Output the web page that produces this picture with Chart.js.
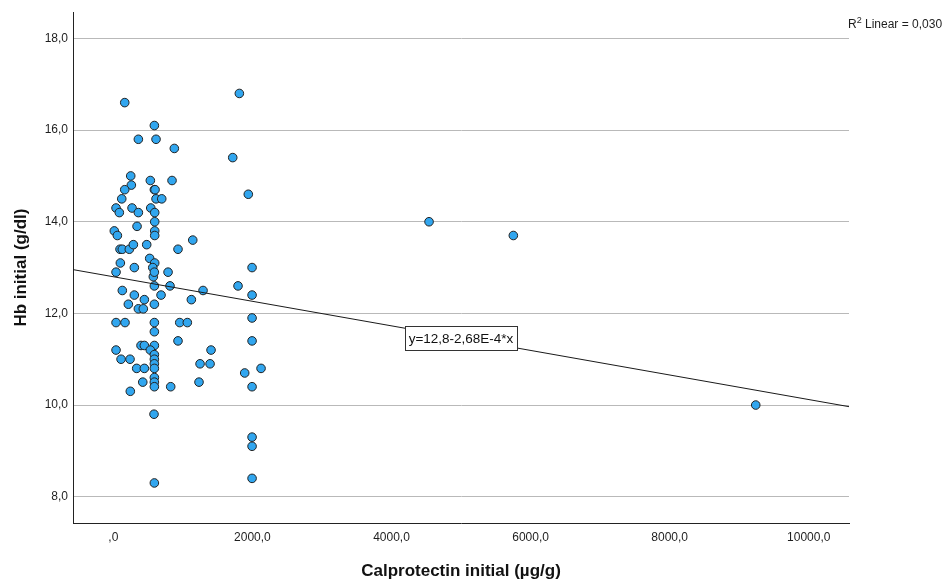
<!DOCTYPE html>
<html>
<head>
<meta charset="utf-8">
<script src="https://cdn.jsdelivr.net/npm/chart.js@4/dist/chart.umd.min.js"></script>
<style>
  html, body { margin: 0; padding: 0; background: #fff; }
  #wrap { width: 946px; height: 583px; position: relative; }
</style>
</head>
<body>
<div id="wrap"><canvas id="c" width="946" height="583"></canvas></div>
<script>
// Initial faecal calprotectin (µg/g) and initial haemoglobin (g/dl), one entry per patient
const calprotectin = [
  164, 1812, 590, 360, 614, 877, 1717, 250, 259, 532,
  844, 164, 590, 600, 1941, 121, 614, 696, 39, 86,
  269, 360, 538, 595, 341, 595, 14, 58, 595, 595,
  1142, 96, 129, 230, 288, 480, 930, 1995, 101, 523,
  595, 39, 302, 567, 787, 575, 590, 590, 815, 1793,
  129, 1290, 302, 686, 1995, 446, 1122, 216, 590, 360,
  431, 39, 168, 590, 955, 1064, 1995, 590, 930, 1995,
  398, 446, 590, 39, 532, 1405, 590, 590, 590, 590,
  111, 240, 1247, 1391, 336, 446, 1889, 2124, 590, 590,
  590, 423, 1232, 825, 1995, 244, 585, 1995, 1995, 1995,
  590, 4540, 5752, 9238
];
const hb = [
  16.6, 16.8, 16.1, 15.8, 15.8, 15.6, 15.4, 15.0, 14.8, 14.9,
  14.9, 14.7, 14.7, 14.7, 14.6, 14.5, 14.5, 14.5, 14.3, 14.2,
  14.3, 14.2, 14.3, 14.2, 13.9, 14.0, 13.8, 13.7, 13.8, 13.7,
  13.6, 13.4, 13.4, 13.4, 13.5, 13.5, 13.4, 13.0, 13.1, 13.2,
  13.1, 12.9, 13.0, 13.0, 12.9, 12.8, 12.9, 12.6, 12.6, 12.6,
  12.5, 12.5, 12.4, 12.4, 12.4, 12.3, 12.3, 12.2, 12.2, 12.1,
  12.1, 11.8, 11.8, 11.8, 11.8, 11.8, 11.9, 11.6, 11.4, 11.4,
  11.3, 11.3, 11.3, 11.2, 11.2, 11.2, 11.1, 11.0, 10.9, 10.8,
  11.0, 11.0, 10.9, 10.9, 10.8, 10.8, 10.7, 10.8, 10.6, 10.5,
  10.4, 10.5, 10.5, 10.4, 10.4, 10.3, 9.8, 9.3, 9.1, 8.4,
  8.3, 14.0, 13.7, 10.0
];

// Axis ticks and ranges
const xTicks = [0, 2000, 4000, 6000, 8000, 10000];
const yTicks = [8, 10, 12, 14, 16, 18];
const X_MIN = -580, X_MAX = 10579;
const Y_MIN = 7.426, Y_MAX = 18.573;

// Linear fit reported for the data
const FIT_INTERCEPT = 12.8;
const FIT_SLOPE = -2.68e-4;
const R2_LINEAR = 0.030;

const fit = x => FIT_INTERCEPT + FIT_SLOPE * x;
// axis labels drop the leading zero (",0"), other numbers keep it
const axisNum = v => {
  const s = v.toFixed(1).replace('.', ',');
  return s.startsWith('0,') ? s.slice(1) : s;
};

const FONT = '"Liberation Sans", Arial, Helvetica, sans-serif';
const TEXT = '#1e1e1e';

const points = calprotectin.map((x, i) => ({ x, y: hb[i] }));

const fitLabel = 'y=' + String(FIT_INTERCEPT).replace('.', ',') + '-' +
  (Math.abs(FIT_SLOPE) * 1e4).toFixed(2).replace('.', ',') + 'E-4*x';

const annotations = {
  id: 'annotations',
  afterDatasetsDraw(chart) {
    const { ctx, scales: { x, y } } = chart;
    ctx.save();
    // fit equation box, centred on the line at the middle of the x range
    const xm = (X_MIN + X_MAX) / 2;
    const cx = x.getPixelForValue(xm), cy = y.getPixelForValue(fit(xm));
    ctx.font = '13.5px ' + FONT;
    const tw = ctx.measureText(fitLabel).width;
    const bw = Math.round(tw + 7), bh = 24;
    const bx = Math.round(cx - bw / 2) + 0.5, by = Math.round(cy - bh / 2) + 0.5;
    ctx.fillStyle = '#fff';
    ctx.fillRect(bx, by, bw, bh);
    ctx.strokeStyle = '#333';
    ctx.lineWidth = 1;
    ctx.strokeRect(bx, by, bw, bh);
    ctx.fillStyle = '#111';
    ctx.textAlign = 'center';
    ctx.textBaseline = 'middle';
    ctx.fillText(fitLabel, cx, cy + 1);
    ctx.restore();
  },
  afterDraw(chart) {
    const { ctx, chartArea: a } = chart;
    ctx.save();
    ctx.fillStyle = '#111';
    // axis titles
    ctx.font = 'bold 17px ' + FONT;
    ctx.textAlign = 'center';
    ctx.textBaseline = 'middle';
    ctx.fillText('Calprotectin initial (\u00b5g/g)', (a.left + a.right) / 2, 571);
    ctx.translate(21, (a.top + a.bottom) / 2);
    ctx.rotate(-Math.PI / 2);
    ctx.fillText('Hb initial (g/dl)', 0, 0);
    ctx.setTransform(1, 0, 0, 1, 0, 0);
    // R² note at the top right
    ctx.fillStyle = TEXT;
    ctx.textAlign = 'left';
    ctx.textBaseline = 'alphabetic';
    let px = a.right - 1;
    ctx.font = '12px ' + FONT;
    ctx.fillText('R', px, 28);
    px += ctx.measureText('R').width;
    ctx.font = '9px ' + FONT;
    ctx.fillText('2', px, 23);
    px += ctx.measureText('2').width;
    ctx.font = '12px ' + FONT;
    ctx.fillText(' Linear = ' + R2_LINEAR.toFixed(3).replace('.', ','), px, 28);
    ctx.restore();
  }
};

new Chart(document.getElementById('c'), {
  type: 'scatter',
  data: {
    datasets: [
      {
        type: 'line',
        label: 'Linear fit',
        data: [{ x: X_MIN, y: fit(X_MIN) }, { x: X_MAX, y: fit(X_MAX) }],
        borderColor: '#1a1a1a',
        borderWidth: 1,
        pointRadius: 0,
        fill: false,
        order: 0
      },
      {
        label: 'Hb initial',
        data: points,
        backgroundColor: '#31a6ef',
        borderColor: '#222',
        borderWidth: 1,
        pointRadius: 4.3,
        pointHoverRadius: 4.3,
        order: 1
      }
    ]
  },
  options: {
    responsive: false,
    animation: false,
    devicePixelRatio: 1,
    layout: { padding: { top: 12, right: 97, left: 0, bottom: 0 } },
    plugins: { legend: { display: false }, tooltip: { enabled: false } },
    scales: {
      x: {
        type: 'linear',
        min: X_MIN,
        max: X_MAX,
        afterFit: s => { s.height = 60; },
        afterBuildTicks: s => { s.ticks = xTicks.map(v => ({ value: v })); },
        grid: { display: false, drawTicks: false },
        border: { display: true, color: '#222', width: 1 },
        ticks: {
          padding: 7,
          maxRotation: 0,
          autoSkip: false,
          color: TEXT,
          font: { family: FONT, size: 12 },
          callback: v => axisNum(v)
        }
      },
      y: {
        type: 'linear',
        min: Y_MIN,
        max: Y_MAX,
        afterFit: s => { s.width = 73; },
        afterBuildTicks: s => { s.ticks = yTicks.map(v => ({ value: v })); },
        grid: { color: '#b9b9b9', lineWidth: 1, drawTicks: false },
        border: { display: true, color: '#222', width: 1 },
        ticks: {
          padding: 5,
          autoSkip: false,
          color: TEXT,
          font: { family: FONT, size: 12 },
          callback: v => axisNum(v)
        }
      }
    }
  },
  plugins: [annotations]
});
</script>
</body>
</html>
